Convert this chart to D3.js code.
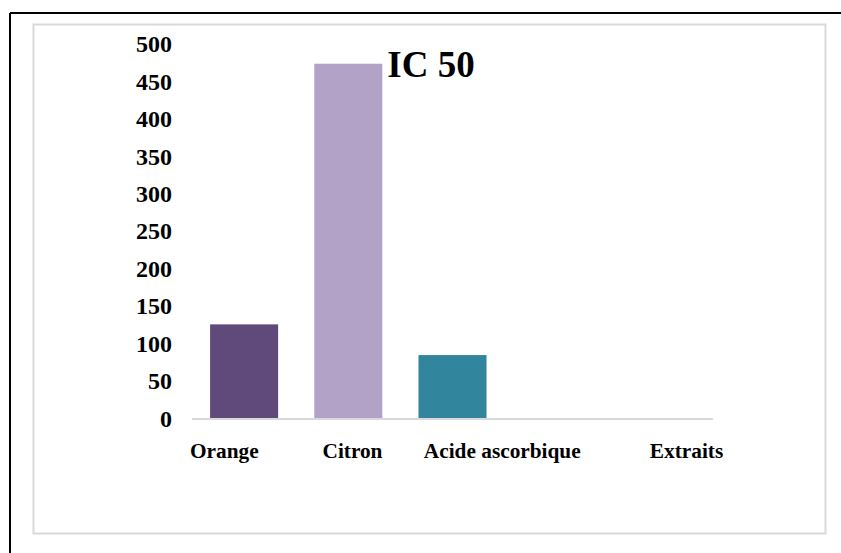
<!DOCTYPE html>
<html>
<head>
<meta charset="utf-8">
<script src="https://cdn.jsdelivr.net/npm/d3@7"></script>
<style>
  html, body { margin: 0; padding: 0; background: #fff; }
  svg { display: block; font-family: "Liberation Serif", "Times New Roman", serif; }
</style>
</head>
<body>
<svg id="chart" width="841" height="553"></svg>
<script>
// IC 50 values per sample (slots 4 and 5 hold no value)
const categories = ["Orange", "Citron", "Acide ascorbique", "Extraits", ""];
const values = [125, 473, 84, 0, 0];
const barColors = ["#604a7b", "#b3a2c7", "#31859c", "#4f81bd", "#f79646"];
const yTicks = [0, 50, 100, 150, 200, 250, 300, 350, 400, 450, 500];
const chartTitle = "IC 50";
// category names typed as one spaced line beneath the axis
const axisTitle = "Orange            Citron        Acide ascorbique             Extraits";

const svg = d3.select("#chart");

// outer frame (left and top rules)
svg.append("line").attr("x1", 10).attr("y1", 13).attr("x2", 841).attr("y2", 13)
  .attr("stroke", "#000").attr("stroke-width", 2);
svg.append("line").attr("x1", 10).attr("y1", 13).attr("x2", 10).attr("y2", 553)
  .attr("stroke", "#000").attr("stroke-width", 2);

// chart area border
svg.append("rect").attr("x", 33.5).attr("y", 24.5).attr("width", 792).attr("height", 509)
  .attr("fill", "#fff").attr("stroke", "#d9d9d9").attr("stroke-width", 2);

const plot = { left: 192, right: 713, top: 43.5, bottom: 418 };

const x = d3.scaleBand()
  .domain(d3.range(categories.length))
  .range([plot.left, plot.right])
  .paddingInner(0.347)
  .paddingOuter(0.1735);

const y = d3.scaleLinear()
  .domain([0, 500])
  .range([plot.bottom, plot.top]);

// bars
svg.append("g").selectAll("rect")
  .data(values)
  .join("rect")
  .attr("x", (d, i) => x(i))
  .attr("y", d => y(d))
  .attr("width", x.bandwidth())
  .attr("height", d => y(0) - y(d))
  .attr("fill", (d, i) => barColors[i]);

// value axis: labels only
const yAxis = d3.axisLeft(y).tickValues(yTicks).tickSize(0).tickPadding(0);
const gy = svg.append("g").attr("transform", "translate(172,0)").call(yAxis);
gy.select(".domain").remove();
gy.selectAll("text")
  .attr("fill", "#000")
  .style("font-family", "'Liberation Serif', 'Times New Roman', serif")
  .style("font-weight", "bold")
  .style("font-size", "24px")
  .attr("dy", "0.34em");

// baseline
svg.append("line")
  .attr("x1", plot.left).attr("x2", plot.right)
  .attr("y1", y(0) + 1).attr("y2", y(0) + 1)
  .attr("stroke", "#d9d9d9").attr("stroke-width", 2);

// category line
svg.append("text")
  .attr("x", plot.left - 2)
  .attr("y", 458)
  .attr("xml:space", "preserve")
  .style("white-space", "pre")
  .style("font-weight", "bold")
  .style("font-size", "21.3px")
  .attr("fill", "#000")
  .text(axisTitle);

// title
svg.append("text")
  .attr("x", 431)
  .attr("y", 77)
  .attr("text-anchor", "middle")
  .style("font-weight", "bold")
  .style("font-size", "37px")
  .attr("fill", "#000")
  .text(chartTitle);
</script>
</body>
</html>
